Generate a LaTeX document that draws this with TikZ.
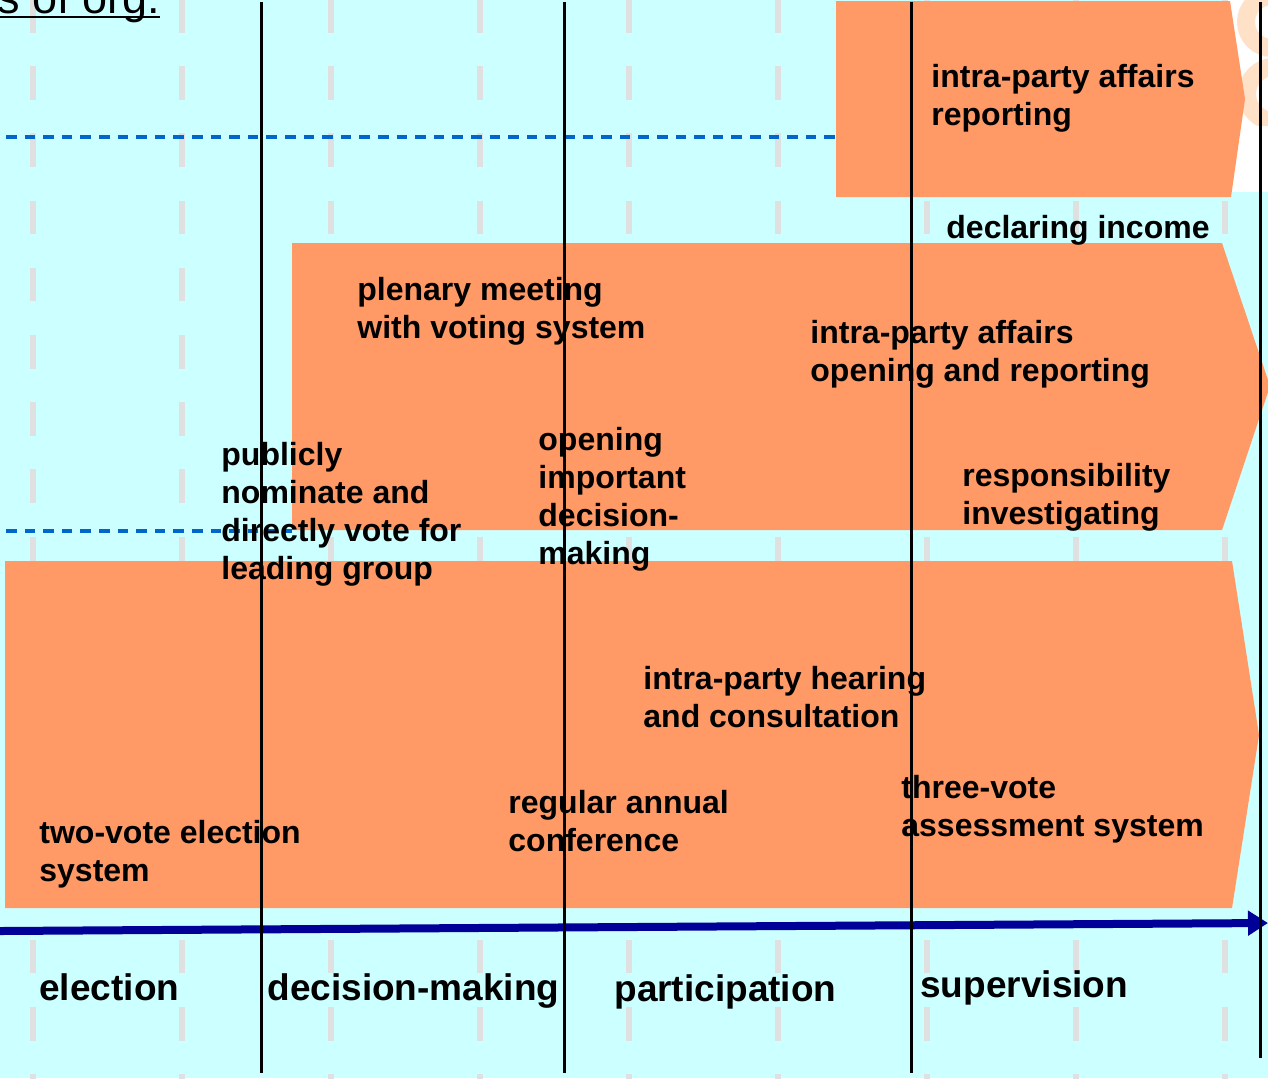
\documentclass[tikz,border=0pt]{standalone}
\usepackage{fontspec}
\setmainfont{Liberation Sans}
\usetikzlibrary{arrows.meta}

\definecolor{bgcyan}{HTML}{CCFFFF}
\definecolor{boxorange}{HTML}{FF9966}
\definecolor{gridgray}{HTML}{E0E0E0}
\definecolor{guideblue}{HTML}{0066CC}
\definecolor{axisblue}{HTML}{000099}
\definecolor{logopeach}{HTML}{FFE1C8}

\begin{document}
\begin{tikzpicture}[x=0.5pt, y=-0.5pt,
		phase/.style={fill=boxorange, draw=none},
		txt/.style={anchor=north west, inner sep=0pt, align=left, font=\bfseries\fontsize{16}{19}\selectfont},
		axislabel/.style={anchor=base west, inner sep=0pt, font=\bfseries\fontsize{18.5}{22}\selectfont},
		divider/.style={line width=1.5pt},
		gridline/.style={gridgray, line width=3pt, dash pattern=on 16.75pt off 16.85pt},
		guide/.style={guideblue, line width=1.6pt, dash pattern=on 5.3pt off 4pt},
		>={Triangle[length=10pt, width=12pt]}
	]

	% page and background
	\useasboundingbox (0,0) rectangle (1268,1078);
	\fill[bgcyan] (0,0) rectangle (1268,1078);
	\fill[white] (1228,0) rectangle (1268,192);
	\begin{scope}
		\clip (1228,0) rectangle (1268,125);
		\draw[logopeach, line width=9pt] (1272,22) circle (26);
		\draw[logopeach, line width=9pt] (1274,94) circle (27);
	\end{scope}

	% faint column grid
	\foreach \x in {33,182,331,480,629,778,927,1076,1225}
		\draw[gridline] (\x,-1) -- (\x,1080);

	% blue guide lines
	\draw[guide] (6,137) -- (836,137);
	\draw[guide] (6,531) -- (292,531);

	% phases
	\fill[phase] (836,1) -- (1230,1) -- (1245,99) -- (1231,197) -- (836,197) -- cycle;
	\fill[phase] (292,243) -- (1222,243) -- (1270,386) -- (1222,530) -- (292,530) -- cycle;
	\fill[phase] (5,561) -- (1232,561) -- (1259,735) -- (1232,908) -- (5,908) -- cycle;

	% title
	\node[anchor=base west, inner sep=0pt, font=\fontsize{22.5}{27}\selectfont] (title) at (-3,13) {s of org.};
	\draw[line width=1pt] ([yshift=-2pt]title.base west) -- ([yshift=-2pt]title.base east);

	% time axis
	\coordinate (axisL) at (0,931);
	\coordinate (axisR) at (1268,923);
	\draw[->, axisblue, line width=4pt] (axisL) -- (axisR);

	% dividers
	\foreach \x/\e in {261/1073, 564/1073, 911/1073, 1260/1058}
		\draw[divider] (\x,2) -- (\x,\e);

	% texts
	\node[txt] (repInfo) at (931,64) {intra-party affairs\\reporting};
	\node[txt] (incomeDecl) at (946,215) {declaring income};
	\node[txt] (plenary) at (357,277) {plenary meeting\\with voting system};
	\node[txt] (openRep) at (810,320) {intra-party affairs\\opening and reporting};
	\node[txt] (openDec) at (538,427) {opening\\important\\decision-\\making};
	\node[txt] (nominate) at (221,442) {publicly\\nominate and\\directly vote for\\leading group};
	\node[txt] (respInv) at (962,463) {responsibility\\investigating};
	\node[txt] (hearing) at (643,666) {intra-party hearing\\and consultation};
	\node[txt] (annualConf) at (508,790) {regular annual\\conference};
	\node[txt] (threeVote) at (901,775) {three-vote\\assessment system};
	\node[txt] (twoVote) at (39,820) {two-vote election\\system};

	% axis labels
	\node[axislabel] (lbElection) at (39,1000) {election};
	\node[axislabel] (lbDecision) at (267,1000) {decision-making};
	\node[axislabel] (lbParticipation) at (614,1001) {participation};
	\node[axislabel] (lbSupervision) at (920,997) {supervision};

\end{tikzpicture}
\end{document}
